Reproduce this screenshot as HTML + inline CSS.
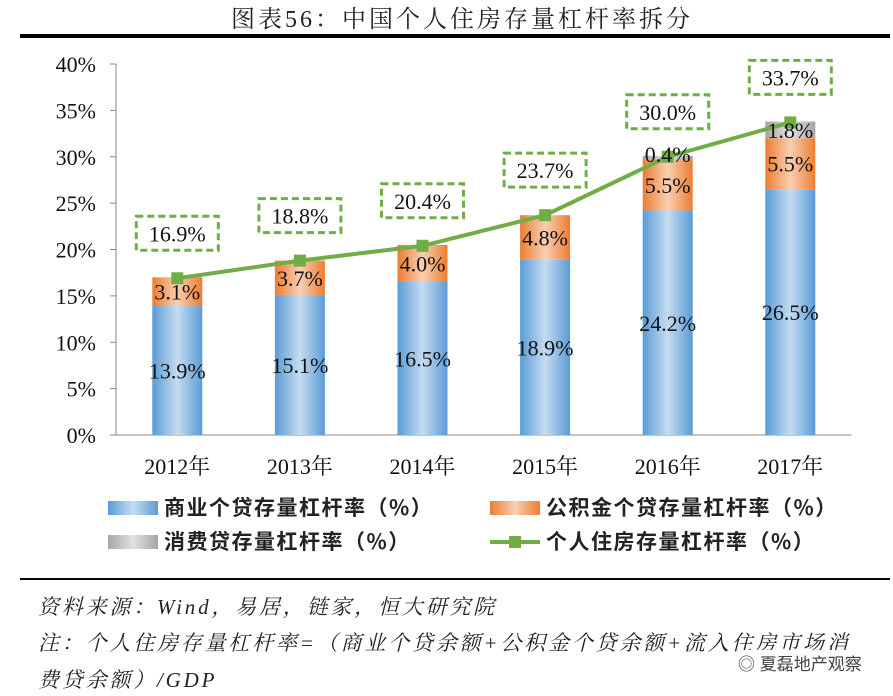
<!DOCTYPE html>
<html><head><meta charset="utf-8"><style>
body{margin:0;width:893px;height:696px;background:#fff;overflow:hidden;font-family:"Liberation Serif","Noto Serif CJK SC",serif;}
.note{position:absolute;left:38px;font-style:italic;font-size:21px;letter-spacing:2.8px;color:#222;font-family:"Liberation Serif","Noto Serif CJK SC",serif;white-space:nowrap;}
</style></head><body>
<svg width="893" height="696" style="position:absolute;left:0;top:0">
<defs>
<linearGradient id="gb" x1="0" x2="1"><stop offset="0" stop-color="#5b9bd5"/><stop offset="0.5" stop-color="#c5dcf1"/><stop offset="1" stop-color="#5b9bd5"/></linearGradient>
<linearGradient id="go" x1="0" x2="1"><stop offset="0" stop-color="#ed7d31"/><stop offset="0.5" stop-color="#f8cfb2"/><stop offset="1" stop-color="#ed7d31"/></linearGradient>
<linearGradient id="gg" x1="0" x2="1"><stop offset="0" stop-color="#a5a5a5"/><stop offset="0.5" stop-color="#e2e2e2"/><stop offset="1" stop-color="#a5a5a5"/></linearGradient>
</defs>
<text x="462" y="27" text-anchor="middle" font-size="24" letter-spacing="3" fill="#222">图表56：中国个人住房存量杠杆率拆分</text>
<rect x="20" y="34" width="870" height="4" fill="#000"/>
<g id="plot"></g>
<rect x="20" y="578" width="870" height="2" fill="#000"/>
</svg>
<div class="note" style="top:591px">资料来源：Wind，易居，链家，恒大研究院</div>
<div class="note" style="top:627px">注：个人住房存量杠杆率=（商业个贷余额+公积金个贷余额+流入住房市场消</div>
<div class="note" style="top:664px">费贷余额）/GDP</div>
<div style="position:absolute;left:738px;top:650px;font-size:17px;color:#444;background:#fff;font-family:'Liberation Sans','Noto Sans CJK SC',sans-serif">◎ 夏磊地产观察</div>
<script>
const categories=["2012年","2013年","2014年","2015年","2016年","2017年"];
const commercial=[13.9,15.1,16.5,18.9,24.2,26.5];
const provident=[3.1,3.7,4.0,4.8,5.5,5.5];
const consumer=[0,0,0,0,0.4,1.8];
const totals=[16.9,18.8,20.4,23.7,30.0,33.7];
const yTicks=[0,5,10,15,20,25,30,35,40];
const NS="http://www.w3.org/2000/svg";
const g=document.getElementById('plot');
const x0=116,band=122.6,y0=435,ppu=(435-64)/40,bw=50;
const X=i=>x0+band*(i+0.5), Y=v=>y0-v*ppu;
function mk(t,a,p){const e=document.createElementNS(NS,t);for(const k in a)e.setAttribute(k,a[k]);(p||g).appendChild(e);return e;}
function txt(x,y,s,a){const e=mk('text',Object.assign({x:x,y:y,'font-size':22,fill:'#111','text-anchor':'middle'},a||{}));e.textContent=s;return e;}
let ax=mk('line',{x1:x0,y1:64,x2:x0,y2:y0,stroke:'#888'});


yTicks.forEach(v=>{const l=mk('line',{x1:x0-6,x2:x0,y1:Y(v),y2:Y(v),stroke:'#888'});


const t=txt(96,Y(v)+8,v+'%',{'text-anchor':'end'});

});
let xa=mk('line',{x1:x0,y1:y0,x2:x0+band*6,y2:y0,stroke:'#888'});


categories.forEach((c,i)=>{
 const t=txt(X(i),474,c);
 
 
 const segs=[[commercial[i],'url(#gb)','bar-commercial'],[provident[i],'url(#go)','bar-provident'],[consumer[i],'url(#gg)','bar-consumer']];
 let base=0;
 segs.forEach(s=>{if(s[0]>0){const r=mk('rect',{x:X(i)-bw/2,y:Y(base+s[0]),width:bw,height:s[0]*ppu,fill:s[1]});
  
  }
  base+=s[0];});
});
const pts=totals.map((v,i)=>X(i)+','+Y(v)).join(' ');
let pl=mk('polyline',{points:pts,fill:'none',stroke:'#70ad47','stroke-width':4,'stroke-linejoin':'round'});


categories.forEach((c,i)=>{
 const m=mk('rect',{x:X(i)-6,y:Y(totals[i])-6,width:12,height:12,fill:'#70ad47'});
 
 
 let base=0;
 [commercial,provident,consumer].forEach((arr,k)=>{const v=arr[i];if(v>0){
  const yc=k==2&&v<1?Y(base+v)+6:Y(base+v/2)+8;
  const t=txt(X(i),yc,v.toFixed(1)+'%');
  
  }base+=v;});
 const by=Y(totals[i])-45;
 const b=mk('rect',{x:X(i)-41,y:by-17,width:82,height:34,fill:'#fff',stroke:'#70ad47','stroke-width':3,'stroke-dasharray':'7,4'});
 
 
 const t=txt(X(i),by+8,totals[i].toFixed(1)+'%');
 
 
});
function leg(x,y,kind,label,name){
 let e;
 if(kind==='line'){e=mk('line',{x1:x,x2:x+50,y1:y,y2:y,stroke:'#70ad47','stroke-width':4});mk('rect',{x:x+19,y:y-6,width:12,height:12,fill:'#70ad47'});}
 else{e=mk('rect',{x:x,y:y-7,width:50,height:14,fill:kind});}
 
 
 const t=txt(x+56,y+7,label,{'text-anchor':'start','font-size':21,'letter-spacing':1.5,'font-family':'"Noto Sans CJK SC","Liberation Sans",sans-serif','font-weight':'bold',fill:'#222'});
 
 
}
leg(108,508,'url(#gb)','商业个贷存量杠杆率（%）','legend-commercial');
leg(490,508,'url(#go)','公积金个贷存量杠杆率（%）','legend-provident');
leg(108,542,'url(#gg)','消费贷存量杠杆率（%）','legend-consumer');
leg(490,542,'line','个人住房存量杠杆率（%）','legend-total');
</script>
</body></html>
